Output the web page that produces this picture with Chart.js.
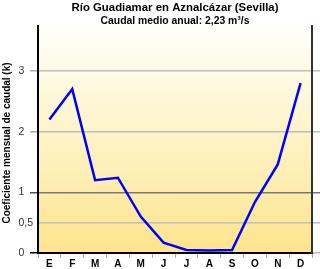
<!DOCTYPE html>
<html>
<head>
<meta charset="utf-8">
<script src="https://cdn.jsdelivr.net/npm/chart.js@4"></script>
<style>
  html, body { margin: 0; padding: 0; background: #fff; }
  #wrap { width: 320px; height: 269px; }
</style>
</head>
<body>
<div id="wrap"><canvas id="myChart" width="320" height="269"></canvas></div>
<script>
const months = ["E", "F", "M", "A", "M", "J", "J", "A", "S", "O", "N", "D"];
const caudal = [2.20, 2.70, 1.20, 1.24, 0.60, 0.17, 0.05, 0.04, 0.05, 0.84, 1.46, 2.80];
const yTicks = [0, 0.5, 1, 2, 3];
const title = "Río Guadiamar en Aznalcázar (Sevilla)";
const subtitle = "Caudal medio anual: 2,23 m³/s";
const yTitle = "Coeficiente mensual de caudal (k)";

const FONT = "'Liberation Sans', Arial, sans-serif";

// yellow gradient behind the plot, the two title lines and the y title
let background = {
    id: "background",
    beforeDraw(chart) {
        let {ctx, chartArea: a} = chart;
        let g = ctx.createLinearGradient(0, a.top, 0, a.bottom);
        g.addColorStop(0, "#fffffa");
        g.addColorStop(0.5, "#fdf3c6");
        g.addColorStop(1, "#fde48c");
        ctx.save();
        ctx.fillStyle = g;
        ctx.fillRect(a.left, a.top, a.right - a.left, a.bottom - a.top);
        ctx.restore();
    },
    afterDraw(chart) {
        let ctx = chart.ctx;
        ctx.save();
        ctx.fillStyle = "#000";
        ctx.textAlign = "center";
        ctx.textBaseline = "middle";
        ctx.font = "bold 11.4px " + FONT;
        ctx.fillText(title, 175, 8);
        ctx.font = "bold 10.4px " + FONT;
        ctx.fillText(subtitle, 175, 21);
        // y axis title
        ctx.translate(7, 143);
        ctx.rotate(-Math.PI / 2);
        ctx.font = "bold 10px " + FONT;
        ctx.fillText(yTitle, 0, 0);
        ctx.restore();
    }
};

let setTicks = (scale) => {
    scale.ticks = yTicks.map(v => ({value: v}));
};

let outerTick = (c) => {
    if (!c.tick) return "#aaa";
    if (c.tick.value === 0) return "#000";
    if (c.tick.value === 0.5) return "rgba(0,0,0,0)";
    if (c.tick.value === 1) return "#555";
    return "#aaa";
};

let myChart = new Chart("myChart", {
    type: "line",
    data: {
        labels: months,
        datasets: [{
            data: caudal,
            borderColor: "#0000ff",
            borderWidth: 2.5,
            pointRadius: 0,
            tension: 0,
            fill: false
        }]
    },
    options: {
        responsive: false,
        animation: false,
        layout: {
            padding: {left: 18.5, top: 26, right: 0, bottom: 0}
        },
        plugins: {
            legend: { display: false },
            tooltip: { enabled: false }
        },
        scales: {
            x: {
                offset: true,
                grid: {
                    offset: true,
                    drawOnChartArea: false,
                    drawTicks: true,
                    tickLength: 5,
                    tickColor: "#aaa"
                },
                border: { color: "#000", width: 2 },
                ticks: {
                    color: "#000",
                    padding: 0,
                    maxRotation: 0,
                    autoSkip: false,
                    font: { family: FONT, size: 10, weight: "bold" }
                },
                afterFit: (scale) => { scale.height = 16; }
            },
            y: {
                min: 0,
                max: 3.74,
                afterBuildTicks: setTicks,
                grid: {
                    color: (c) => c.tick && c.tick.value === 1 ? "#777" : "#bdbdbd",
                    lineWidth: 1.5,
                    tickLength: 8,
                    tickColor: outerTick
                },
                border: { color: "#000", width: 2 },
                ticks: {
                    color: "#333",
                    padding: 3,
                    crossAlign: "far",
                    font: { family: FONT, size: 10.5 },
                    callback: (v) => String(v).replace(".", ",")
                },
                afterFit: (scale) => { scale.width = 19.5; }
            },
            y2: {
                position: "right",
                min: 0,
                max: 3.74,
                afterBuildTicks: setTicks,
                grid: {
                    drawOnChartArea: false,
                    lineWidth: 1.5,
                    tickLength: 8,
                    tickColor: (c) => c.tick && c.tick.value === 1 ? "#777" : "#bdbdbd"
                },
                border: { color: "#333", width: 2 },
                ticks: { display: false },
                afterFit: (scale) => { scale.width = 8; }
            }
        }
    },
    plugins: [background]
});
</script>
</body>
</html>
